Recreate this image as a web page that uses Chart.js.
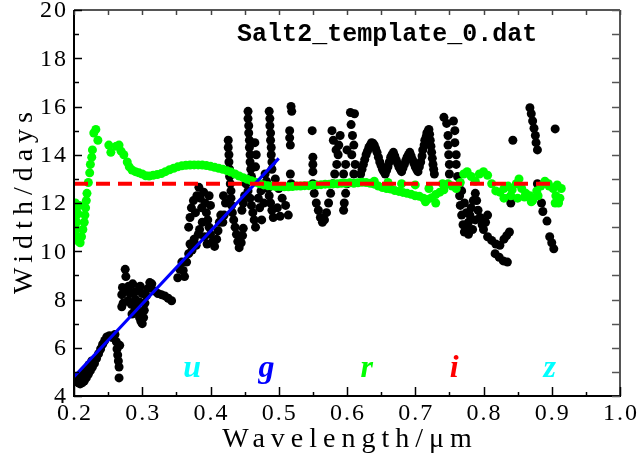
<!DOCTYPE html>
<html>
<head>
<meta charset="utf-8">
<script src="https://cdn.jsdelivr.net/npm/chart.js@4.4.0/dist/chart.umd.min.js"></script>
<style>
  html, body { margin: 0; padding: 0; background: #fff; }
</style>
</head>
<body>
<canvas id="chart" width="637" height="459"></canvas>
<script>
// axis ticks
const xMajor = [0.2, 0.3, 0.4, 0.5, 0.6, 0.7, 0.8, 0.9, 1.0];
const xMinor = [0.25, 0.35, 0.45, 0.55, 0.65, 0.75, 0.85, 0.95];
const xLabels = ["0.2", "0.3", "0.4", "0.5", "0.6", "0.7", "0.8", "0.9", "1.0"];
const yMajor = [4, 6, 8, 10, 12, 14, 16, 18, 20];
const yMinor = [5, 7, 9, 11, 13, 15, 17, 19];

// mean width (red dashed) and linear fit (blue)
const meanX = [0.2, 0.9];
const meanY = [12.8, 12.8];
const fitX = [0.2, 0.5];
const fitY = [4.8, 13.85];

// filter band labels
const bands = ["u", "g", "r", "i", "z"];
const bandX = [0.373, 0.482, 0.629, 0.757, 0.897];
const bandY = 4.8;
const bandColors = ["#00ffff", "#0000ff", "#00ff00", "#ff0000", "#00ffff"];

const titleText = "Salt2_template_0.dat";

// template width, black points
const blackPts = [
  [0.200,4.70],[0.203,4.62],[0.206,4.55],[0.209,4.50],[0.212,4.55],[0.215,4.62],[0.218,4.75],[0.221,4.90],
  [0.224,5.05],[0.227,5.20],[0.230,5.35],[0.233,5.55],[0.236,5.75],[0.239,5.95],[0.242,6.15],[0.245,6.30],
  [0.248,6.45],[0.252,6.50],[0.256,6.42],[0.260,6.55],[0.208,4.85],[0.213,4.95],[0.218,5.10],[0.222,5.30],[0.226,5.45],
  [0.262,6.25],[0.263,5.95],[0.264,5.70],[0.265,5.45],[0.266,5.20],[0.267,6.10],[0.266,4.75],
  [0.275,9.25],[0.276,8.95],[0.271,8.50],[0.270,8.20],[0.272,7.85],[0.270,7.70],[0.277,8.40],[0.280,8.55],
  [0.282,8.25],[0.279,7.95],[0.284,7.80],[0.286,8.65],[0.288,8.30],[0.290,8.00],[0.292,7.70],[0.294,7.45],
  [0.296,7.25],[0.298,7.10],[0.300,7.00],[0.302,7.25],[0.303,7.55],[0.304,7.85],[0.306,8.15],[0.308,8.45],
  [0.311,8.70],[0.314,8.65],[0.289,7.55],[0.293,8.35],[0.297,8.55],[0.300,8.25],[0.296,7.90],[0.285,7.40],
  [0.318,8.35],[0.323,8.25],[0.328,8.20],[0.333,8.15],[0.338,8.05],[0.343,7.95],
  [0.352,8.90],[0.355,9.25],[0.358,9.55],[0.360,9.20],[0.362,8.95],[0.365,9.55],[0.368,9.90],[0.370,10.30],
  [0.373,10.05],[0.376,10.50],[0.379,10.25],
  [0.368,11.0],[0.370,11.4],[0.372,11.8],[0.375,12.1],[0.378,11.6],[0.380,12.3],[0.383,12.65],[0.385,12.2],
  [0.387,11.8],[0.390,12.45],[0.392,12.0],[0.394,11.6],[0.396,11.3],[0.398,11.0],[0.400,10.7],[0.403,10.4],
  [0.406,10.2],[0.409,10.5],[0.411,10.85],[0.413,11.2],[0.415,11.5],[0.388,11.2],[0.384,10.9],[0.391,10.6],
  [0.395,10.3],[0.400,11.9],[0.398,12.3],[0.382,10.7],
  [0.426,14.6],[0.426,14.3],[0.427,14.0],[0.427,13.7],[0.428,13.4],[0.428,13.1],[0.429,12.8],[0.430,12.5],
  [0.430,12.2],[0.431,11.9],[0.432,11.6],[0.434,11.3],[0.436,11.0],[0.438,10.7],[0.440,10.4],[0.442,10.15],
  [0.445,10.35],[0.447,10.65],[0.448,10.95],[0.420,11.5],[0.418,11.2],[0.422,12.0],[0.419,12.3],
  [0.455,15.8],[0.455,15.5],[0.456,15.2],[0.456,14.9],[0.457,14.6],[0.457,14.3],[0.458,14.0],[0.458,13.7],
  [0.459,13.4],[0.460,13.1],[0.452,12.8],[0.455,12.5],[0.458,12.2],[0.460,11.9],[0.462,11.6],[0.464,11.3],
  [0.466,11.0],[0.450,12.3],[0.448,12.0],[0.446,11.7],[0.465,14.5],[0.467,14.0],[0.466,13.5],
  [0.486,15.8],[0.487,15.5],[0.487,15.2],[0.488,14.9],[0.488,14.6],[0.489,14.3],[0.489,14.0],[0.490,13.7],
  [0.490,13.4],[0.480,13.2],[0.482,12.9],[0.484,12.6],[0.486,12.3],[0.488,12.0],[0.490,11.7],[0.492,11.4],
  [0.475,11.3],[0.478,12.0],[0.474,12.5],[0.470,12.2],[0.472,11.8],
  [0.495,13.0],[0.500,12.6],[0.505,12.2],[0.510,11.9],[0.514,11.5],[0.498,11.8],[0.502,11.45],
  [0.518,16.0],[0.519,15.8],[0.516,15.0],[0.516,14.7],[0.517,14.4],[0.517,13.2],[0.518,12.8],
  [0.549,15.0],[0.550,13.9],[0.550,13.6],[0.550,13.3],[0.550,12.8],[0.552,12.4],[0.555,12.0],[0.558,11.7],
  [0.561,11.4],[0.564,11.2],[0.567,11.3],[0.570,11.6],[0.573,12.0],[0.576,12.4],[0.579,12.8],[0.582,13.2],
  [0.585,13.6],[0.587,14.0],[0.588,14.4],[0.590,14.8],[0.578,15.0],[0.580,14.6],[0.584,14.2],
  [0.605,15.75],[0.611,15.7],[0.606,15.25],[0.608,14.8],[0.610,14.4],[0.607,14.0],[0.612,13.6],[0.610,13.2],
  [0.600,12.8],[0.598,12.4],[0.596,12.0],[0.595,11.7],[0.600,14.2],[0.598,13.6],[0.595,13.2],
  [0.620,13.2],[0.622,13.4],[0.624,13.6],[0.626,13.8],[0.628,14.0],[0.630,14.15],[0.632,14.3],[0.634,14.4],
  [0.636,14.5],[0.638,14.48],[0.640,14.4],[0.642,14.25],[0.644,14.1],[0.646,13.9],[0.648,13.7],[0.650,13.55],
  [0.652,13.4],[0.654,13.3],[0.656,13.2],[0.658,13.35],[0.660,13.5],[0.662,13.7],[0.664,13.9],[0.666,14.0],
  [0.668,14.1],[0.670,13.95],[0.672,13.8],[0.674,13.65],[0.676,13.5],[0.678,13.4],[0.680,13.3],[0.682,13.45],
  [0.684,13.6],[0.686,13.75],[0.688,13.9],[0.690,14.0],[0.692,14.1],[0.694,13.95],[0.696,13.8],[0.698,13.65],
  [0.700,13.5],[0.702,13.4],[0.704,13.3],[0.706,13.5],[0.708,13.7],[0.710,13.95],[0.711,14.2],[0.713,14.4],
  [0.714,14.6],[0.716,14.75],[0.717,14.9],[0.719,15.0],[0.720,15.05],[0.721,14.85],[0.722,14.6],[0.723,14.35],
  [0.724,14.1],[0.725,13.85],[0.726,13.6],[0.727,13.4],[0.728,13.2],
  [0.742,15.55],[0.746,15.3],[0.748,14.8],[0.748,14.4],[0.749,14.0],[0.750,13.6],[0.750,13.2],[0.756,15.4],
  [0.758,15.0],[0.758,14.5],[0.760,14.0],[0.760,13.6],[0.762,13.1],[0.764,12.7],[0.765,12.3],[0.766,11.9],
  [0.768,11.5],[0.770,11.1],[0.772,10.8],[0.776,10.9],[0.778,11.2],[0.780,11.5],[0.782,11.8],[0.785,12.1],
  [0.788,12.4],[0.790,12.1],[0.792,11.7],[0.795,11.4],[0.798,11.1],[0.800,10.9],[0.803,11.2],[0.806,11.5],
  [0.768,12.5],[0.772,12.0],[0.775,11.6],[0.778,10.7],[0.784,10.9],[0.788,11.3],
  [0.806,10.6],[0.812,10.45],[0.818,10.3],[0.824,10.25],[0.830,10.5],[0.834,10.65],[0.838,10.8],
  [0.817,9.9],[0.823,9.75],[0.829,9.6],[0.835,9.55],
  [0.843,14.6],[0.839,12.25],[0.840,12.0],
  [0.868,15.95],[0.870,15.7],[0.872,15.4],[0.874,15.1],[0.876,14.8],[0.877,14.5],[0.879,14.2],[0.905,15.07],
  [0.879,12.8],[0.885,12.0],[0.887,11.65],[0.893,11.25],[0.897,10.6],[0.900,10.35],[0.903,10.1]
];

// template width, green points
const greenPts = [
  [0.202,12.0],[0.203,11.7],[0.202,11.4],[0.204,11.2],[0.203,10.9],[0.205,10.6],[0.207,10.4],[0.209,10.35],
  [0.206,11.55],[0.208,11.9],[0.211,10.6],[0.213,10.9],[0.215,11.2],[0.216,11.5],[0.217,11.8],[0.218,12.1],
  [0.219,12.4],[0.221,12.85],[0.223,13.25],[0.224,13.6],[0.226,13.9],[0.227,14.2],[0.229,14.9],[0.232,15.05],
  [0.235,14.6],
  [0.251,14.4],[0.254,14.1],[0.262,14.35],[0.266,14.4],[0.269,14.15],[0.273,14.0],[0.278,13.7],[0.281,13.5],
  [0.285,13.37],[0.290,13.3],[0.295,13.25],[0.300,13.2],[0.305,13.13],[0.310,13.12],[0.316,13.15],[0.322,13.18],
  [0.328,13.22],[0.334,13.3],[0.340,13.38],[0.346,13.44],[0.352,13.5],[0.358,13.54],[0.364,13.56],[0.370,13.57],
  [0.376,13.58],[0.382,13.58],[0.388,13.57],[0.394,13.55],[0.400,13.52],[0.406,13.48],[0.412,13.44],[0.418,13.4],
  [0.424,13.34],[0.430,13.28],[0.436,13.2],[0.442,13.12],[0.448,13.05],[0.454,12.98],[0.460,12.92],[0.466,12.86],
  [0.472,12.8],[0.478,12.75],[0.484,12.72],[0.490,12.7],[0.496,12.68],[0.502,12.68],[0.508,12.67],[0.514,12.67],
  [0.520,12.68],[0.526,12.7],[0.532,12.7],[0.538,12.72],[0.544,12.72],[0.550,12.74],[0.556,12.75],[0.562,12.76],
  [0.568,12.78],[0.574,12.78],[0.580,12.8],[0.586,12.8],[0.592,12.82],[0.598,12.82],[0.604,12.84],[0.610,12.82],
  [0.616,12.84],[0.622,12.86],[0.628,12.85],[0.634,12.82],[0.640,12.78],[0.646,12.7],[0.652,12.64],[0.658,12.6],
  [0.664,12.58],[0.670,12.52],[0.676,12.48],[0.682,12.44],[0.688,12.4],[0.694,12.36],[0.700,12.3],[0.706,12.28],
  [0.712,12.2],[0.718,12.15],[0.724,12.22],[0.730,12.35],[0.736,12.45],[0.742,12.55],[0.748,12.8],[0.754,12.7],
  [0.760,12.6],[0.766,12.85],[0.771,13.2],[0.776,13.3],[0.782,13.1],[0.788,12.9],[0.794,13.2],[0.800,13.3],
  [0.806,13.15],[0.812,12.8],[0.818,12.5],[0.824,12.45],[0.830,12.6],[0.836,12.7],[0.842,12.55],[0.848,12.8],
  [0.852,13.0],[0.856,12.6],[0.862,12.4],[0.868,12.3],[0.872,12.1],[0.878,12.5],[0.884,12.7],[0.890,12.9],
  [0.896,12.7],[0.902,12.6],[0.906,12.3],[0.910,12.0],[0.914,12.6],[0.908,12.75],
  [0.640,12.9],[0.660,12.85],[0.680,12.8],[0.700,12.75],[0.720,12.6],[0.740,12.8],[0.730,12.0],[0.715,12.05],
  [0.830,12.2],[0.840,12.3],[0.850,12.2],[0.860,12.25],[0.870,12.05],[0.880,12.3],[0.895,12.8],[0.905,12.0],[0.912,12.2]
];

const toXY = (xs, ys) => xs.map((x, i) => ({ x: x, y: ys[i] }));
const toPts = arr => arr.map(p => ({ x: p[0], y: p[1] }));

const serif = '"Liberation Serif", "DejaVu Serif", serif';

const decor = {
  id: "decor",
  afterDraw(chart) {
    const ctx = chart.ctx;
    const a = chart.chartArea;
    const xs = chart.scales.x;
    const ys = chart.scales.y;
    const line = (x1, y1, x2, y2) => {
      ctx.beginPath(); ctx.moveTo(x1, y1); ctx.lineTo(x2, y2); ctx.stroke();
    };
    ctx.save();
    // frame
    ctx.lineWidth = 2;
    ctx.strokeStyle = "#555";
    line(a.left, a.top, a.right, a.top);
    line(a.right, a.top, a.right, a.bottom);
    ctx.strokeStyle = "#000";
    line(a.left, a.top, a.left, a.bottom + 1);
    line(a.left - 1, a.bottom, a.right + 1, a.bottom);

    // ticks, pointing inward
    ctx.lineWidth = 1.5;
    xMajor.concat(xMinor).forEach(v => {
      const p = Math.round(xs.getPixelForValue(v)) + 0.5;
      const len = xMajor.includes(v) ? 9 : 4;
      ctx.strokeStyle = "#000";
      line(p, a.bottom, p, a.bottom - len);
      ctx.strokeStyle = "#444";
      line(p, a.top, p, a.top + 5);
    });
    yMajor.concat(yMinor).forEach(v => {
      const p = Math.round(ys.getPixelForValue(v)) + 0.5;
      const len = yMajor.includes(v) ? 8 : 5;
      ctx.strokeStyle = "#000";
      line(a.left, p, a.left + len, p);
      ctx.strokeStyle = "#555";
      line(a.right, p, a.right - 8, p);
    });

    // tick labels
    ctx.fillStyle = "#000";
    ctx.font = "24px " + serif;
    ctx.letterSpacing = "2px";
    ctx.textAlign = "center";
    ctx.textBaseline = "alphabetic";
    xMajor.forEach((v, i) => {
      ctx.fillText(xLabels[i], xs.getPixelForValue(v) + 1, a.bottom + 24);
    });
    ctx.textAlign = "right";
    ctx.textBaseline = "middle";
    yMajor.forEach(v => {
      ctx.fillText(String(v), a.left - 6, ys.getPixelForValue(v) + 1);
    });

    // axis titles
    ctx.font = "28px " + serif;
    ctx.letterSpacing = "6px";
    ctx.textAlign = "center";
    ctx.textBaseline = "alphabetic";
    ctx.fillText("Wavelength/\u03bcm", (a.left + a.right) / 2 + 3, a.bottom + 51);
    ctx.save();
    ctx.translate(32, (a.top + a.bottom) / 2);
    ctx.rotate(-Math.PI / 2);
    ctx.fillText("Width/days", 3, 0);
    ctx.restore();

    // title inside the frame
    ctx.letterSpacing = "0px";
    ctx.textAlign = "left";
    ctx.font = 'bold 25px "Liberation Mono", "DejaVu Sans Mono", monospace';
    ctx.fillText(titleText, xs.getPixelForValue(0.439), ys.getPixelForValue(18.7));

    // filter letters
    ctx.textAlign = "center";
    ctx.font = "italic bold 32px " + serif;
    bands.forEach((b, i) => {
      ctx.fillStyle = bandColors[i];
      ctx.fillText(b, xs.getPixelForValue(bandX[i]), ys.getPixelForValue(bandY));
    });
    ctx.restore();
  }
};

new Chart(document.getElementById("chart"), {
  type: "scatter",
  data: {
    datasets: [
      {
        label: "mean",
        data: toXY(meanX, meanY),
        showLine: true,
        borderColor: "#ff0000",
        borderWidth: 4,
        borderDash: [14, 8],
        pointRadius: 0
      },
      {
        label: "fit",
        data: toXY(fitX, fitY),
        showLine: true,
        borderColor: "#0000ff",
        borderWidth: 3,
        pointRadius: 0
      },
      {
        label: "green",
        data: toPts(greenPts),
        backgroundColor: "#00ff00",
        borderWidth: 0,
        pointRadius: 4.5
      },
      {
        label: "black",
        data: toPts(blackPts),
        backgroundColor: "#000000",
        borderWidth: 0,
        pointRadius: 4.5
      }
    ]
  },
  options: {
    responsive: false,
    animation: false,
    events: [],
    layout: {
      padding: { left: 74, right: 17, top: 10, bottom: 63 }
    },
    plugins: {
      legend: { display: false },
      tooltip: { enabled: false }
    },
    scales: {
      x: { type: "linear", min: 0.2, max: 1.0, display: false },
      y: { type: "linear", min: 4, max: 20, display: false }
    }
  },
  plugins: [decor]
});
</script>
</body>
</html>
